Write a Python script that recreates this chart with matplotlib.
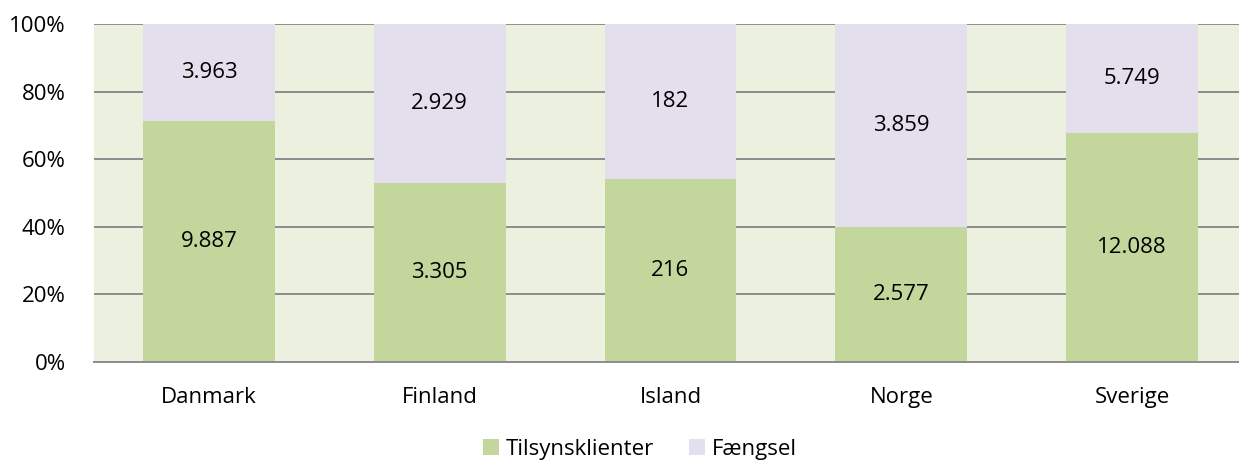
import matplotlib
matplotlib.use("Agg")
import matplotlib.pyplot as plt
import numpy as np

categories = ["Danmark", "Finland", "Island", "Norge", "Sverige"]
tilsyn = [9887, 3305, 216, 2577, 12088]
faengsel = [3963, 2929, 182, 3859, 5749]
tilsyn_labels = ["9.887", "3.305", "216", "2.577", "12.088"]
faengsel_labels = ["3.963", "2.929", "182", "3.859", "5.749"]
yticks = [0, 20, 40, 60, 80, 100]
ytick_labels = ["0%", "20%", "40%", "60%", "80%", "100%"]

plt.rcParams['font.family'] = ['Open Sans', 'DejaVu Sans']

W, H = 1239, 463
fig = plt.figure(figsize=(W/100, H/100), dpi=100)
left = 93.5 / W
right = 1247.5 / W
top = 1 - 24 / H
bottom = 1 - 362 / H
ax = fig.add_axes([left, bottom, right - left, top - bottom])
ax.set_facecolor("#EBF1DE")

t = np.array(tilsyn, float)
f = np.array(faengsel, float)
tot = t + f
tp = t / tot * 100
fp = f / tot * 100
x = np.arange(len(categories))
bw = 132 / 231

for y in yticks[1:]:
    ax.axhline(y, color="#8C8C8C", lw=1.4, zorder=1)

ax.bar(x, tp, width=bw, color="#C3D69B", zorder=2, label="Tilsynsklienter")
ax.bar(x, fp, width=bw, bottom=tp, color="#E4DFEC", zorder=2, label="Fængsel")

fs = 16
for i in range(len(categories)):
    ax.text(x[i], tp[i] / 2, tilsyn_labels[i], ha="center", va="center", fontsize=fs, zorder=3)
    ax.text(x[i], tp[i] + fp[i] / 2, faengsel_labels[i], ha="center", va="center", fontsize=fs, zorder=3)

ax.set_xlim(-0.5, len(categories) - 0.5)
ax.set_ylim(0, 100)
ax.set_yticks(yticks)
ax.set_yticklabels(ytick_labels, fontsize=fs)
ax.set_xticks(x)
ax.set_xticklabels(categories, fontsize=fs)
ax.tick_params(axis="both", length=0)
ax.tick_params(axis="y", pad=20)
ax.tick_params(axis="x", pad=18)
for s in ["top", "left", "right"]:
    ax.spines[s].set_visible(False)
ax.spines["bottom"].set_color("#8C8C8C")
ax.spines["bottom"].set_linewidth(1.4)
ax.spines["bottom"].set_zorder(4)

fig.legend(loc="center", bbox_to_anchor=(640 / W, 1 - 449 / H), ncol=2, frameon=False,
           fontsize=fs, handlelength=0.7, handleheight=0.7, handletextpad=0.3, columnspacing=1.6,
           borderpad=0.1)

fig.savefig("out.png", dpi=100)
